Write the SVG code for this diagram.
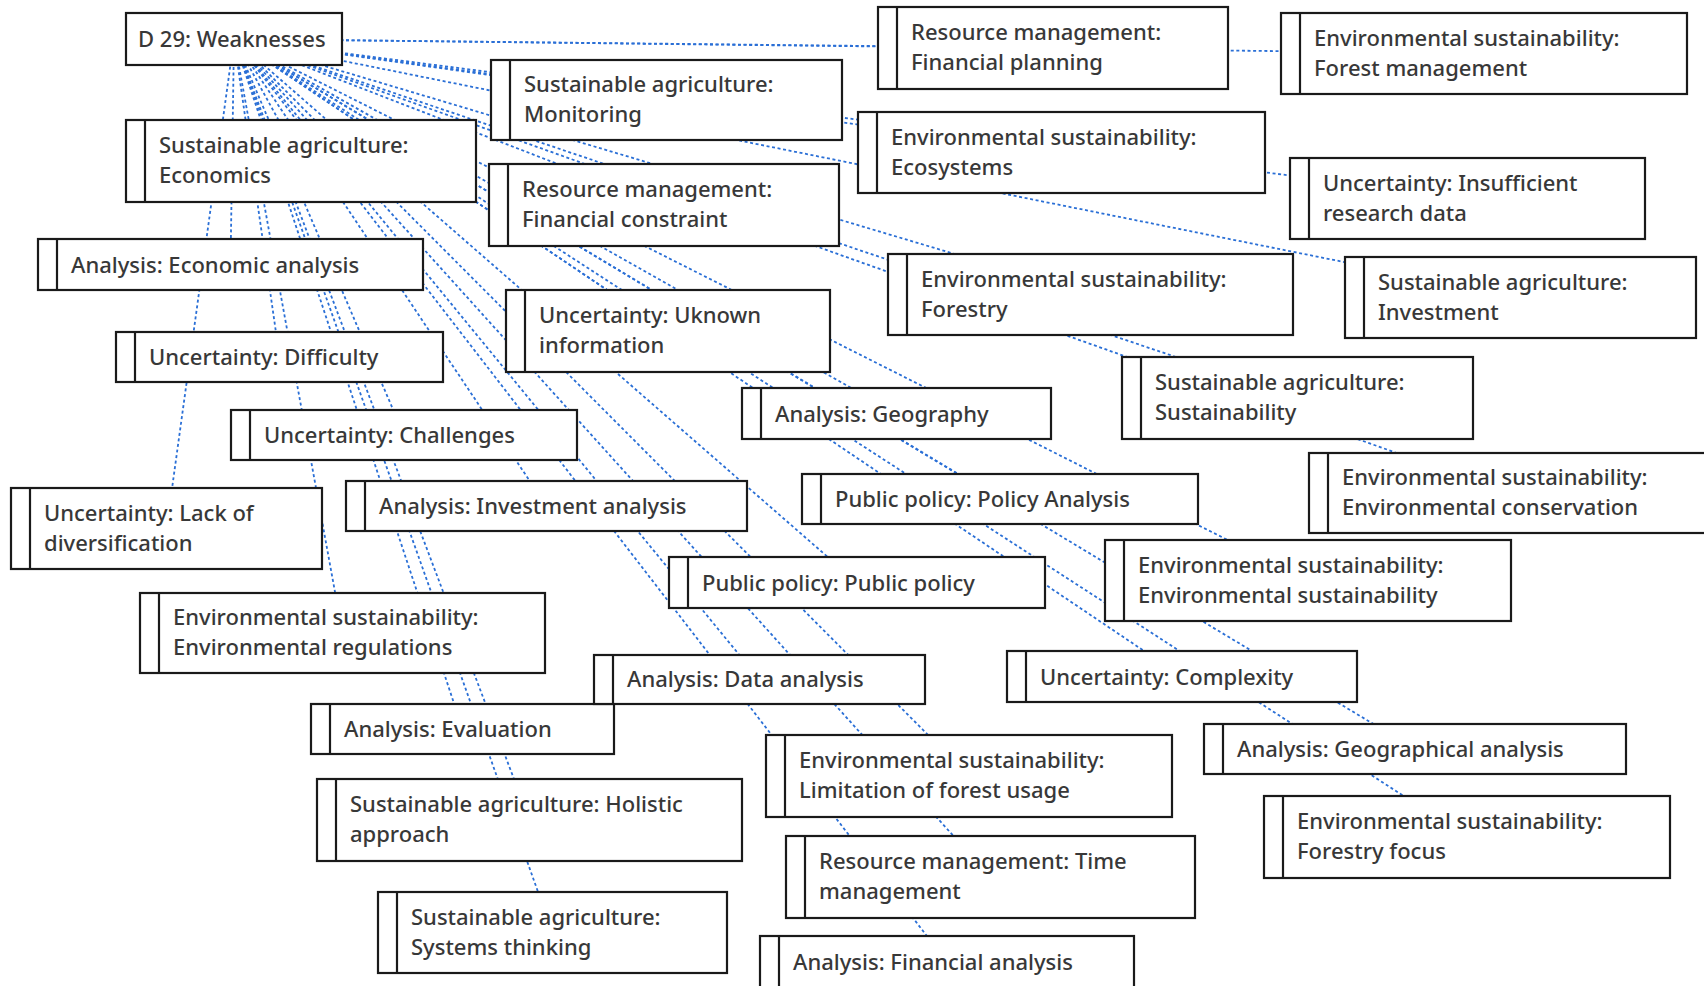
<svg xmlns="http://www.w3.org/2000/svg" width="1704" height="986" viewBox="0 0 1704 986">
<style>
.bg{fill:#ffffff}
.edge{stroke:#2a6fd6;stroke-width:1.8;stroke-dasharray:3 2.6;fill:none}
.box{fill:#ffffff;stroke:#1a1a1a;stroke-width:2.2}
.bar{stroke:#1a1a1a;stroke-width:2.2}
.t{font-family:"Noto Sans","Open Sans","DejaVu Sans",sans-serif;font-size:22px;font-weight:500;fill:#383838}
</style>
<rect class="bg" x="0" y="0" width="1704" height="986"/>
<g id="connectors">
<line class="edge" x1="234" y1="39" x2="301" y2="161"/>
<line class="edge" x1="234" y1="39" x2="230.5" y2="264.5"/>
<line class="edge" x1="234" y1="39" x2="666.5" y2="100"/>
<line class="edge" x1="234" y1="39" x2="664" y2="205"/>
<line class="edge" x1="234" y1="39" x2="1053" y2="48"/>
<line class="edge" x1="234" y1="39" x2="1061.5" y2="152.5"/>
<line class="edge" x1="234" y1="39" x2="1484" y2="53.5"/>
<line class="edge" x1="234" y1="39" x2="1467.5" y2="198.5"/>
<line class="edge" x1="234" y1="39" x2="1520.5" y2="297.5"/>
<line class="edge" x1="234" y1="39" x2="1090.5" y2="294.5"/>
<line class="edge" x1="234" y1="39" x2="668" y2="331"/>
<line class="edge" x1="234" y1="39" x2="279.5" y2="357"/>
<line class="edge" x1="234" y1="39" x2="404" y2="435"/>
<line class="edge" x1="234" y1="39" x2="166.5" y2="528.5"/>
<line class="edge" x1="234" y1="39" x2="546.5" y2="506"/>
<line class="edge" x1="234" y1="39" x2="342.5" y2="633"/>
<line class="edge" x1="234" y1="39" x2="462.5" y2="729"/>
<line class="edge" x1="234" y1="39" x2="529.5" y2="820"/>
<line class="edge" x1="234" y1="39" x2="552.5" y2="932.5"/>
<line class="edge" x1="234" y1="39" x2="759.5" y2="679.5"/>
<line class="edge" x1="234" y1="39" x2="896.5" y2="413.5"/>
<line class="edge" x1="234" y1="39" x2="1000" y2="499"/>
<line class="edge" x1="234" y1="39" x2="857" y2="582.5"/>
<line class="edge" x1="234" y1="39" x2="1297.5" y2="398"/>
<line class="edge" x1="234" y1="39" x2="1509" y2="493"/>
<line class="edge" x1="234" y1="39" x2="1308" y2="580.5"/>
<line class="edge" x1="234" y1="39" x2="1182" y2="676.5"/>
<line class="edge" x1="234" y1="39" x2="1415" y2="749"/>
<line class="edge" x1="234" y1="39" x2="1467" y2="837"/>
<line class="edge" x1="234" y1="39" x2="969" y2="776"/>
<line class="edge" x1="234" y1="39" x2="990.5" y2="877"/>
<line class="edge" x1="234" y1="39" x2="947" y2="962"/>
</g>
<g id="n0"><rect class="box" x="126" y="13" width="216" height="52"/><text class="t" x="138" y="47">D 29: Weaknesses</text></g>
<g id="n1"><rect class="box" x="126" y="120" width="350" height="82"/><line class="bar" x1="145" y1="120" x2="145" y2="202"/><text class="t" x="159"><tspan x="159" y="153">Sustainable agriculture:</tspan><tspan x="159" y="183">Economics</tspan></text></g>
<g id="n2"><rect class="box" x="38" y="239" width="385" height="51"/><line class="bar" x1="57" y1="239" x2="57" y2="290"/><text class="t" x="71" y="273">Analysis: Economic analysis</text></g>
<g id="n3"><rect class="box" x="491" y="60" width="351" height="80"/><line class="bar" x1="510" y1="60" x2="510" y2="140"/><text class="t"><tspan x="524" y="92">Sustainable agriculture:</tspan><tspan x="524" y="122">Monitoring</tspan></text></g>
<g id="n4"><rect class="box" x="489" y="164" width="350" height="82"/><line class="bar" x1="508" y1="164" x2="508" y2="246"/><text class="t"><tspan x="522" y="197">Resource management:</tspan><tspan x="522" y="227">Financial constraint</tspan></text></g>
<g id="n5"><rect class="box" x="878" y="7" width="350" height="82"/><line class="bar" x1="897" y1="7" x2="897" y2="89"/><text class="t"><tspan x="911" y="40">Resource management:</tspan><tspan x="911" y="70">Financial planning</tspan></text></g>
<g id="n6"><rect class="box" x="858" y="112" width="407" height="81"/><line class="bar" x1="877" y1="112" x2="877" y2="193"/><text class="t"><tspan x="891" y="145">Environmental sustainability:</tspan><tspan x="891" y="175">Ecosystems</tspan></text></g>
<g id="n7"><rect class="box" x="1281" y="13" width="406" height="81"/><line class="bar" x1="1300" y1="13" x2="1300" y2="94"/><text class="t"><tspan x="1314" y="46">Environmental sustainability:</tspan><tspan x="1314" y="76">Forest management</tspan></text></g>
<g id="n8"><rect class="box" x="1290" y="158" width="355" height="81"/><line class="bar" x1="1309" y1="158" x2="1309" y2="239"/><text class="t"><tspan x="1323" y="191">Uncertainty: Insufficient</tspan><tspan x="1323" y="221">research data</tspan></text></g>
<g id="n9"><rect class="box" x="1345" y="257" width="351" height="81"/><line class="bar" x1="1364" y1="257" x2="1364" y2="338"/><text class="t"><tspan x="1378" y="290">Sustainable agriculture:</tspan><tspan x="1378" y="320">Investment</tspan></text></g>
<g id="n10"><rect class="box" x="888" y="254" width="405" height="81"/><line class="bar" x1="907" y1="254" x2="907" y2="335"/><text class="t"><tspan x="921" y="287">Environmental sustainability:</tspan><tspan x="921" y="317">Forestry</tspan></text></g>
<g id="n11"><rect class="box" x="506" y="290" width="324" height="82"/><line class="bar" x1="525" y1="290" x2="525" y2="372"/><text class="t"><tspan x="539" y="323">Uncertainty: Uknown</tspan><tspan x="539" y="353">information</tspan></text></g>
<g id="n12"><rect class="box" x="116" y="332" width="327" height="50"/><line class="bar" x1="135" y1="332" x2="135" y2="382"/><text class="t" x="149" y="365">Uncertainty: Difficulty</text></g>
<g id="n13"><rect class="box" x="231" y="410" width="346" height="50"/><line class="bar" x1="250" y1="410" x2="250" y2="460"/><text class="t" x="264" y="443">Uncertainty: Challenges</text></g>
<g id="n14"><rect class="box" x="11" y="488" width="311" height="81"/><line class="bar" x1="30" y1="488" x2="30" y2="569"/><text class="t"><tspan x="44" y="521">Uncertainty: Lack of</tspan><tspan x="44" y="551">diversification</tspan></text></g>
<g id="n15"><rect class="box" x="346" y="481" width="401" height="50"/><line class="bar" x1="365" y1="481" x2="365" y2="531"/><text class="t" x="379" y="514">Analysis: Investment analysis</text></g>
<g id="n16"><rect class="box" x="140" y="593" width="405" height="80"/><line class="bar" x1="159" y1="593" x2="159" y2="673"/><text class="t"><tspan x="173" y="625">Environmental sustainability:</tspan><tspan x="173" y="655">Environmental regulations</tspan></text></g>
<g id="n17"><rect class="box" x="311" y="704" width="303" height="50"/><line class="bar" x1="330" y1="704" x2="330" y2="754"/><text class="t" x="344" y="737">Analysis: Evaluation</text></g>
<g id="n18"><rect class="box" x="317" y="779" width="425" height="82"/><line class="bar" x1="336" y1="779" x2="336" y2="861"/><text class="t"><tspan x="350" y="812">Sustainable agriculture: Holistic</tspan><tspan x="350" y="842">approach</tspan></text></g>
<g id="n19"><rect class="box" x="378" y="892" width="349" height="81"/><line class="bar" x1="397" y1="892" x2="397" y2="973"/><text class="t"><tspan x="411" y="925">Sustainable agriculture:</tspan><tspan x="411" y="955">Systems thinking</tspan></text></g>
<g id="n20"><rect class="box" x="594" y="655" width="331" height="49"/><line class="bar" x1="613" y1="655" x2="613" y2="704"/><text class="t" x="627" y="687">Analysis: Data analysis</text></g>
<g id="n21"><rect class="box" x="742" y="388" width="309" height="51"/><line class="bar" x1="761" y1="388" x2="761" y2="439"/><text class="t" x="775" y="422">Analysis: Geography</text></g>
<g id="n22"><rect class="box" x="802" y="474" width="396" height="50"/><line class="bar" x1="821" y1="474" x2="821" y2="524"/><text class="t" x="835" y="507">Public policy: Policy Analysis</text></g>
<g id="n23"><rect class="box" x="669" y="557" width="376" height="51"/><line class="bar" x1="688" y1="557" x2="688" y2="608"/><text class="t" x="702" y="591">Public policy: Public policy</text></g>
<g id="n24"><rect class="box" x="1122" y="357" width="351" height="82"/><line class="bar" x1="1141" y1="357" x2="1141" y2="439"/><text class="t"><tspan x="1155" y="390">Sustainable agriculture:</tspan><tspan x="1155" y="420">Sustainability</tspan></text></g>
<g id="n25"><rect class="box" x="1309" y="453" width="400" height="80"/><line class="bar" x1="1328" y1="453" x2="1328" y2="533"/><text class="t"><tspan x="1342" y="485">Environmental sustainability:</tspan><tspan x="1342" y="515">Environmental conservation</tspan></text></g>
<g id="n26"><rect class="box" x="1105" y="540" width="406" height="81"/><line class="bar" x1="1124" y1="540" x2="1124" y2="621"/><text class="t"><tspan x="1138" y="573">Environmental sustainability:</tspan><tspan x="1138" y="603">Environmental sustainability</tspan></text></g>
<g id="n27"><rect class="box" x="1007" y="651" width="350" height="51"/><line class="bar" x1="1026" y1="651" x2="1026" y2="702"/><text class="t" x="1040" y="685">Uncertainty: Complexity</text></g>
<g id="n28"><rect class="box" x="1204" y="724" width="422" height="50"/><line class="bar" x1="1223" y1="724" x2="1223" y2="774"/><text class="t" x="1237" y="757">Analysis: Geographical analysis</text></g>
<g id="n29"><rect class="box" x="1264" y="796" width="406" height="82"/><line class="bar" x1="1283" y1="796" x2="1283" y2="878"/><text class="t"><tspan x="1297" y="829">Environmental sustainability:</tspan><tspan x="1297" y="859">Forestry focus</tspan></text></g>
<g id="n30"><rect class="box" x="766" y="735" width="406" height="82"/><line class="bar" x1="785" y1="735" x2="785" y2="817"/><text class="t"><tspan x="799" y="768">Environmental sustainability:</tspan><tspan x="799" y="798">Limitation of forest usage</tspan></text></g>
<g id="n31"><rect class="box" x="786" y="836" width="409" height="82"/><line class="bar" x1="805" y1="836" x2="805" y2="918"/><text class="t"><tspan x="819" y="869">Resource management: Time</tspan><tspan x="819" y="899">management</tspan></text></g>
<g id="n32"><rect class="box" x="760" y="936" width="374" height="53"/><line class="bar" x1="779" y1="936" x2="779" y2="989"/><text class="t" x="793" y="970">Analysis: Financial analysis</text></g>
</svg>
